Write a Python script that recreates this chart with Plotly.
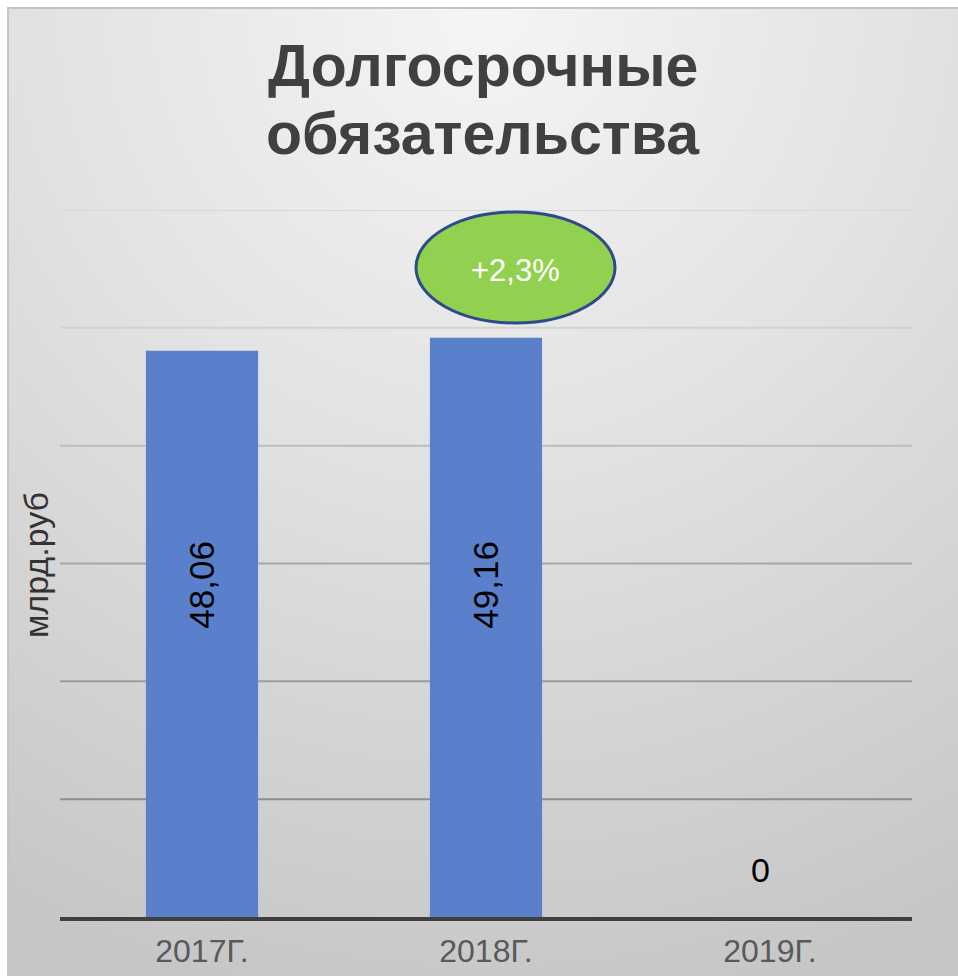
import base64
import plotly.graph_objects as go

# ---- data ----
categories = ["2017Г.", "2018Г.", "2019Г."]
values = [48.06, 49.16, 0]
y_ticks = [0, 10, 20, 30, 40, 50, 60]
title_lines = ["Долгосрочные", "обязательства"]
y_title = "млрд.руб"

# ---- style ----
FONT = "Arial, Liberation Sans, sans-serif"
BAR_COLOR = "#5A80CC"
GRID_COLORS = {10: "#8e8e8e", 20: "#9c9c9c", 30: "#a8a8a8", 40: "#bcbcbc", 50: "#d2d2d2", 60: "#d8d8d8"}
LABEL_LEVEL = 28.2  # vertical position (value units) of the in-bar labels

W, H = 958, 976
L, R, T, B = 60, 46, 210, 59
PW, PH = W - L - R, H - T - B


def px(x):
    return (x - L) / PW


def py(y):
    return (H - B - y) / PH


def fmt(v):
    return "0" if v == 0 else f"{v:.2f}".replace(".", ",")


svg = (
    '<svg xmlns="http://www.w3.org/2000/svg" width="950" height="968" viewBox="0 0 950 968" '
    'preserveAspectRatio="none"><defs><radialGradient id="g" cx="50%" cy="0%" r="105%" fx="50%" fy="0%">'
    '<stop offset="0" stop-color="#f5f5f5"/><stop offset="0.45" stop-color="#e2e2e2"/>'
    '<stop offset="1" stop-color="#c6c6c6"/></radialGradient></defs>'
    '<rect x="0" y="0" width="950" height="968" fill="url(#g)"/></svg>'
)
svg_uri = "data:image/svg+xml;base64," + base64.b64encode(svg.encode()).decode()

fig = go.Figure()
fig.add_trace(go.Bar(x=categories, y=values, marker_color=BAR_COLOR, width=0.395,
                     marker_line_width=0, hoverinfo="skip"))

annotations = []
# title lines
for line, yy in zip(title_lines, [66, 134]):
    annotations.append(dict(text=f"<b>{line}</b>", x=px(483), y=py(yy), xref="paper", yref="paper",
                            showarrow=False, xanchor="center", yanchor="middle",
                            font=dict(family=FONT, size=59, color="#404040")))
# y axis title
annotations.append(dict(text=y_title, x=px(36), y=py(565), xref="paper", yref="paper",
                        showarrow=False, textangle=-90, xanchor="center", yanchor="middle",
                        font=dict(family=FONT, size=34, color="#333333")))
# value labels
for c, v in zip(categories, values):
    if v > 0:
        annotations.append(dict(text=fmt(v), x=c, y=LABEL_LEVEL, xref="x", yref="y", showarrow=False,
                                textangle=-90, xanchor="center", yanchor="middle",
                                font=dict(family=FONT, size=35, color="#000000")))
    else:
        annotations.append(dict(text=fmt(v), x=c, y=v, xref="x", yref="y", showarrow=False,
                                xanchor="center", yanchor="bottom", yshift=26, xshift=-10,
                                font=dict(family=FONT, size=34, color="#000000")))

# growth bubble
growth = (values[1] / values[0] - 1) * 100
growth_txt = f"+{growth:.1f}%".replace(".", ",")
annotations.append(dict(text=growth_txt, x=px(515), y=py(270), xref="paper", yref="paper",
                        showarrow=False, xanchor="center", yanchor="middle",
                        font=dict(family=FONT, size=31, color="#ffffff")))

shapes = []
# gridlines
for t in y_ticks[1:]:
    shapes.append(dict(type="line", xref="paper", yref="y", x0=0, x1=1, y0=t, y1=t,
                       line=dict(color=GRID_COLORS[t], width=2), layer="below"))
# frame
shapes.append(dict(type="rect", xref="paper", yref="paper", x0=px(8), x1=px(970), y0=py(8), y1=py(990),
                   line=dict(color="#c4c4c4", width=2), fillcolor="rgba(0,0,0,0)", layer="below"))
# ellipse
shapes.append(dict(type="circle", xref="paper", yref="paper", x0=px(416), x1=px(615), y0=py(323), y1=py(212),
                   fillcolor="#92D050", line=dict(color="#2C4A8C", width=3), layer="above"))

fig.update_layout(
    width=W, height=H,
    margin=dict(l=L, r=R, t=T, b=B, pad=0, autoexpand=False),
    paper_bgcolor="#ffffff",
    plot_bgcolor="rgba(0,0,0,0)",
    showlegend=False,
    bargap=0.6,
    images=[dict(source=svg_uri, xref="paper", yref="paper", x=px(8), y=py(8),
                 sizex=px(958) - px(8), sizey=py(8) - py(976), xanchor="left", yanchor="top",
                 sizing="stretch", layer="below")],
    shapes=shapes,
    annotations=annotations,
    xaxis=dict(type="category", showgrid=False, zeroline=False, showline=True, linecolor="#404040",
               linewidth=4, ticks="", automargin=False,
               tickfont=dict(family=FONT, size=32, color="#595959"), ticklabelstandoff=3,
               fixedrange=True),
    yaxis=dict(range=[0, 60], tickvals=y_ticks, showticklabels=False, showgrid=False,
               zeroline=False, showline=False, fixedrange=True, automargin=False),
)

fig.write_html("out.html")
